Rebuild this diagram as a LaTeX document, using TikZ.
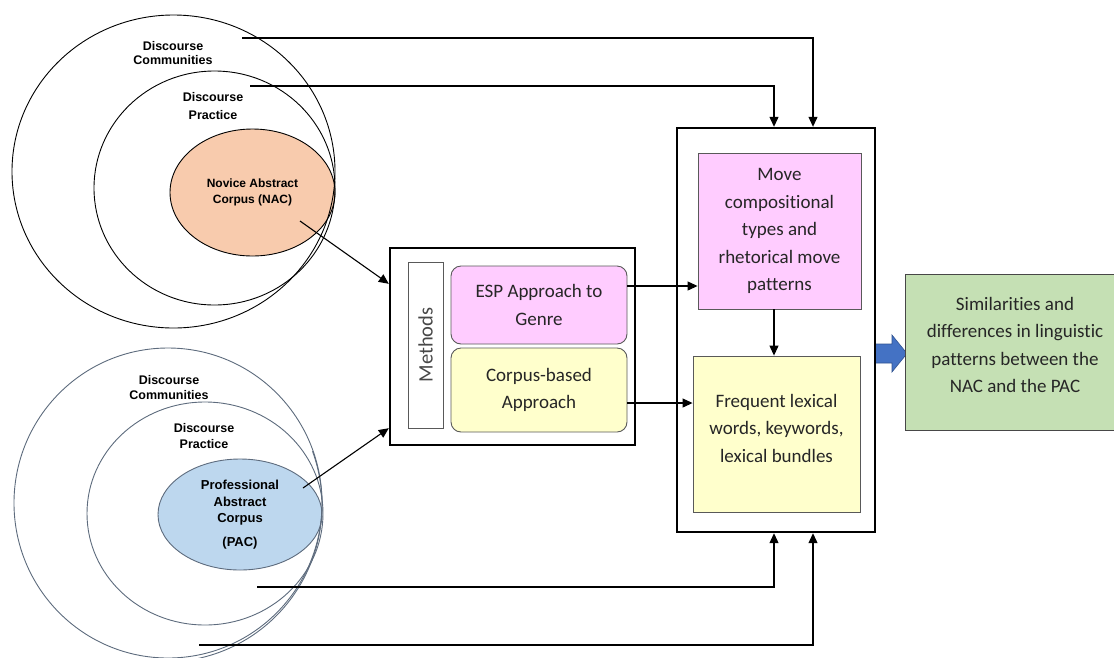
\documentclass[tikz,border=0pt]{standalone}
\usepackage{fontspec}
\setmainfont{Carlito}[Ligatures=NoCommon]
\newfontfamily\labfont{Liberation Sans}
\usetikzlibrary{shapes.geometric,calc,arrows.meta}

\definecolor{nacfill}{HTML}{F8CBAD}
\definecolor{pacfill}{HTML}{BDD7EE}
\definecolor{ringblue}{HTML}{5D6B7D}
\definecolor{pinkfill}{HTML}{FFCCFF}
\definecolor{yellowfill}{HTML}{FFFFCC}
\definecolor{greenfill}{HTML}{C5E0B4}
\definecolor{cardline}{HTML}{595959}
\definecolor{txt}{HTML}{262626}
\definecolor{arrowblue}{HTML}{4472C4}
\definecolor{arrowedge}{HTML}{2F528F}

\begin{document}
\begin{tikzpicture}[x=1pt,y=-1pt,
  ring/.style={ellipse, draw=black, line width=0.9pt, inner sep=0pt},
  bring/.style={ellipse, draw=ringblue, line width=0.9pt, inner sep=0pt},
  ringlabel/.style={font=\labfont\bfseries\fontsize{12.5}{#1}\selectfont, align=center, inner sep=0pt},
  ringlabel/.default=14.5,
  boxtext/.style={font=\fontsize{19}{27.5}\selectfont, text=txt, align=center, inner sep=0pt},
  frame/.style={draw=black, line width=2.4pt, inner sep=0pt},
  card/.style={draw=cardline, line width=0.9pt, inner sep=0pt},
  arr/.style={-{Triangle[length=10pt,width=9pt]}, line width=1.1pt}]
\useasboundingbox (0,0) rectangle (1114,657);

% ---- upper set: novice corpus ----
\node[ring, fill=nacfill, minimum width=165, minimum height=127,
      font=\labfont\bfseries\fontsize{12}{16}\selectfont, align=center] (nac) at (252.5,192.5)
      {Novice Abstract\\Corpus (NAC)};
\node[ring, minimum width=323, minimum height=313] (dcA) at (173.5,171.5) {};
\node[ring, minimum width=241, minimum height=234] (dpA) at (214.5,188) {};
\node[ringlabel=14.5] (lblCommA) at (173,53) {Discourse\\Communities};
\node[ringlabel=18] (lblPracA) at (213,106) {Discourse\\Practice};

% ---- lower set: professional corpus ----
\node[bring, fill=pacfill, minimum width=164, minimum height=111,
      font=\labfont\bfseries\fontsize{13}{16.5}\selectfont, align=center] (pac) at (240,514.5)
      {Professional\\Abstract\\Corpus\\[7pt](PAC)};
\node[bring, minimum width=308, minimum height=310] (dcB) at (168,503) {};
\draw[ringblue, line width=0.9pt] ($(dcB.center)+(-3,2)$) ++(-20:157) arc[start angle=-20, end angle=96, radius=157];
\node[bring, minimum width=236, minimum height=223] (dpB) at (205,513.5) {};
\node[ringlabel=15] (lblCommB) at (169,387.5) {Discourse\\Communities};
\node[ringlabel=16] (lblPracB) at (204,436) {Discourse\\Practice};

% ---- methods block ----
\node[frame, minimum width=245, minimum height=197] (methods) at (512.5,346.5) {};
\node[card, rotate=90, minimum width=166, minimum height=35,
      font=\fontsize{20.5}{22}\selectfont, text=txt!85!white] (methLbl) at (425.5,345) {Methods};
\node[card, rounded corners=10pt, fill=pinkfill, minimum width=176, minimum height=78, boxtext] (esp) at (539,305)
      {ESP Approach to\\Genre};
\node[card, rounded corners=10pt, fill=yellowfill, minimum width=176, minimum height=84, boxtext] (corpus) at (539,390)
      {Corpus-based\\Approach};

% ---- findings block ----
\coordinate (bArr) at (875,353.5);
\filldraw[fill=arrowblue, draw=arrowedge, line width=0.6pt]
  (bArr) ++(0,-9.5) -- ++(17,0) -- ++(0,-9) -- ++(15,18.5) -- ++(-15,18.5) -- ++(0,-9) -- ++(-17,0) -- cycle;
\node[frame, minimum width=198, minimum height=404] (outBox) at (776,330) {};
\node[card, fill=pinkfill, minimum width=163, minimum height=156, boxtext] (move) at (779.5,231)
      {Move\\compositional\\types and\\rhetorical move\\patterns};
\node[card, fill=yellowfill, minimum width=167, minimum height=156] (freq) at (776.5,434) {};
\node[boxtext] (freqTxt) at ($(freq.center)+(0,-6)$) {Frequent lexical\\words, keywords,\\lexical bundles};
\node[card, draw=cardline!80!black, fill=greenfill, minimum width=220, minimum height=156] (result) at (1015,352) {};
\node[boxtext] (resTxt) at ($(result.center)+(0,-7)$)
      {Similarities and\\differences in linguistic\\patterns between the\\NAC and the PAC};

% ---- connectors ----
\coordinate (nacOut) at (300,221);
\coordinate (pacOut) at (303,488);
\draw[arr] (nacOut) -- ($(methods.north west)+(0,37)$);
\draw[arr] (pacOut) -- ($(methods.south west)+(0,-18)$);

\coordinate (espOut) at ($(esp.east)+(0,-19)$);
\coordinate (corOut) at ($(corpus.east)+(0,13)$);
\draw[arr] (espOut) -- (espOut -| move.west);
\draw[arr] (corOut) -- (corOut -| freq.west);
\draw[arr] ($(move.south)+(-5.5,0)$) -- ($(freq.north)+(-2.5,0)$);

\coordinate (dcAout) at (242,38);
\coordinate (dpAout) at (250,86);
\coordinate (dpBout) at (257,587);
\coordinate (dcBout) at (199,645);
\draw[arr] (dcAout) -| ($(outBox.north)+(37,0)$);
\draw[arr] (dpAout) -| ($(outBox.north)+(-2,0)$);
\draw[arr] (dpBout) -| ($(outBox.south)+(-2,0)$);
\draw[arr] (dcBout) -| ($(outBox.south)+(37,0)$);
\end{tikzpicture}
\end{document}
